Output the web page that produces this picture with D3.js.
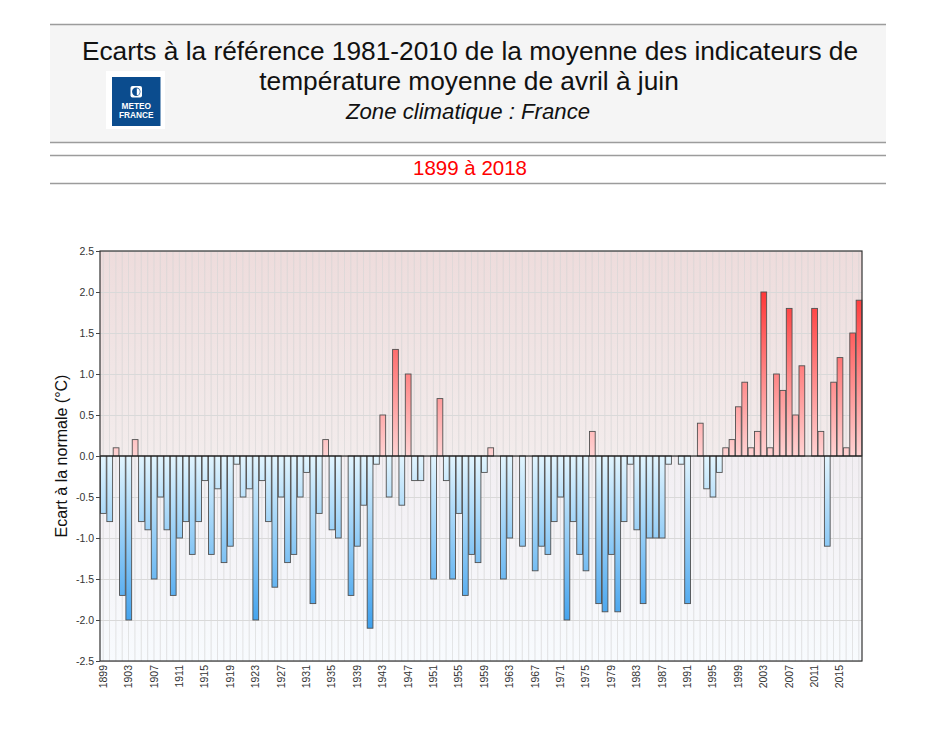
<!DOCTYPE html>
<html><head><meta charset="utf-8">
<script src="https://cdn.jsdelivr.net/npm/d3@7"></script>
<style>
body{margin:0;background:#fff;}
svg{display:block;font-family:"Liberation Sans",Arial,Helvetica,sans-serif;}
</style>
</head><body>
<svg id="chart" width="936" height="750"></svg>
<script>
// ---------- data ----------
const firstYear = 1899;
const lastYear = 2018;
const anomalies = [
  -0.7,-0.8, 0.1,-1.7,-2.0, 0.2,-0.8,-0.9,-1.5,-0.5, // 1899-1908
  -0.9,-1.7,-1.0,-0.8,-1.2,-0.8,-0.3,-1.2,-0.4,-1.3, // 1909-1918
  -1.1,-0.1,-0.5,-0.4,-2.0,-0.3,-0.8,-1.6,-0.5,-1.3, // 1919-1928
  -1.2,-0.5,-0.2,-1.8,-0.7, 0.2,-0.9,-1.0, 0.0,-1.7, // 1929-1938
  -1.1,-0.6,-2.1,-0.1, 0.5,-0.5, 1.3,-0.6, 1.0,-0.3, // 1939-1948
  -0.3, 0.0,-1.5, 0.7,-0.3,-1.5,-0.7,-1.7,-1.2,-1.3, // 1949-1958
  -0.2, 0.1, 0.0,-1.5,-1.0, 0.0,-1.1, 0.0,-1.4,-1.1, // 1959-1968
  -1.2,-0.8,-0.5,-2.0,-0.8,-1.2,-1.4, 0.3,-1.8,-1.9, // 1969-1978
  -1.2,-1.9,-0.8,-0.1,-0.9,-1.8,-1.0,-1.0,-1.0,-0.1, // 1979-1988
   0.0,-0.1,-1.8, 0.0, 0.4,-0.4,-0.5,-0.2, 0.1, 0.2, // 1989-1998
   0.6, 0.9, 0.1, 0.3, 2.0, 0.1, 1.0, 0.8, 1.8, 0.5, // 1999-2008
   1.1, 0.0, 1.8, 0.3,-1.1, 0.9, 1.2, 0.1, 1.5, 1.9  // 2009-2018
];
const years = d3.range(firstYear, lastYear + 1);
const yTicks = [-2.5,-2.0,-1.5,-1.0,-0.5,0.0,0.5,1.0,1.5,2.0,2.5];
const xTickYears = [1899,1903,1907,1911,1915,1919,1923,1927,1931,1935,1939,1943,1947,1951,1955,1959,
                    1963,1967,1971,1975,1979,1983,1987,1991,1995,1999,2003,2007,2011,2015];
const titleLines = ["Ecarts à la référence 1981-2010 de la moyenne des indicateurs de",
                    "température moyenne de avril à juin"];
const zoneText = "Zone climatique : France";
const periodText = "1899 à 2018";
const yAxisTitle = "Ecart à la normale (°C)";

const data = years.map((y, i) => ({year: y, value: anomalies[i]}));

// ---------- layout ----------
const svg = d3.select("#chart");
const plot = {left: 100, right: 862, top: 251, bottom: 661};
const cx = 469;

// header block
svg.append("rect").attr("x", 50).attr("y", 25).attr("width", 836).attr("height", 117).attr("fill", "#f5f5f5");
[24.5, 142.5, 155.5, 183.5].forEach(y => {
  svg.append("line").attr("x1", 50).attr("x2", 886).attr("y1", y).attr("y2", y)
    .attr("stroke", "#9c9c9c").attr("stroke-width", 1.5);
});
svg.append("text").attr("x", cx + 1).attr("y", 60).attr("text-anchor", "middle")
  .attr("font-size", 26.3).attr("fill", "#111").text(titleLines[0]);
svg.append("text").attr("x", cx).attr("y", 90).attr("text-anchor", "middle")
  .attr("font-size", 26.3).attr("fill", "#111").text(titleLines[1]);
svg.append("text").attr("x", cx - 1).attr("y", 119).attr("text-anchor", "middle")
  .attr("font-size", 22.2).attr("font-style", "italic").attr("fill", "#111").text(zoneText);
svg.append("text").attr("x", cx + 1).attr("y", 175).attr("text-anchor", "middle")
  .attr("font-size", 20.5).attr("fill", "#ff0000").text(periodText);

// logo
const logo = svg.append("g");
logo.append("rect").attr("x", 106).attr("y", 71).attr("width", 59).attr("height", 58).attr("fill", "#fff");
logo.append("rect").attr("x", 112).attr("y", 77).attr("width", 48.5).attr("height", 49).attr("fill", "#0b4c8e");
logo.append("rect").attr("x", 130.5).attr("y", 86).attr("width", 11.5).attr("height", 11.5).attr("rx", 2).attr("fill", "#fff");
logo.append("circle").attr("cx", 136.25).attr("cy", 91.75).attr("r", 4.2).attr("fill", "#0b4c8e");
logo.append("path").attr("d", "M136.8,88.2 A3.6,3.6 0 0 1 136.8,95.3 Z").attr("fill", "#fff");
logo.append("text").attr("x", 136.3).attr("y", 109.3).attr("text-anchor", "middle")
  .attr("font-size", 8.3).attr("font-weight", "bold").attr("fill", "#fff").text("METEO");
logo.append("text").attr("x", 136.3).attr("y", 117.5).attr("text-anchor", "middle")
  .attr("font-size", 8.3).attr("font-weight", "bold").attr("fill", "#fff").text("FRANCE");

// ---------- scales ----------
const x = d3.scaleBand().domain(years).range([plot.left, plot.right]).padding(0);
const y = d3.scaleLinear().domain([-2.5, 2.5]).range([plot.bottom, plot.top]);

// gradients
const defs = svg.append("defs");
const bg = defs.append("linearGradient").attr("id", "bgGrad")
  .attr("gradientUnits", "userSpaceOnUse").attr("x1", 0).attr("x2", 0)
  .attr("y1", y(2.5)).attr("y2", y(-2.5));
bg.append("stop").attr("offset", "0%").attr("stop-color", "#eedcdc");
bg.append("stop").attr("offset", "49.9%").attr("stop-color", "#f3ecec");
bg.append("stop").attr("offset", "50.1%").attr("stop-color", "#f2eef2");
bg.append("stop").attr("offset", "100%").attr("stop-color", "#f8fbfe");

const posG = defs.append("linearGradient").attr("id", "posGrad")
  .attr("gradientUnits", "userSpaceOnUse").attr("x1", 0).attr("x2", 0)
  .attr("y1", y(0)).attr("y2", y(2.5));
posG.append("stop").attr("offset", "0%").attr("stop-color", "#ffd3d3");
posG.append("stop").attr("offset", "100%").attr("stop-color", "#ff1010");

const negG = defs.append("linearGradient").attr("id", "negGrad")
  .attr("gradientUnits", "userSpaceOnUse").attr("x1", 0).attr("x2", 0)
  .attr("y1", y(0)).attr("y2", y(-2.5));
negG.append("stop").attr("offset", "0%").attr("stop-color", "#e2f5fe");
negG.append("stop").attr("offset", "100%").attr("stop-color", "#1e90ea");

// plot background
svg.append("rect").attr("x", plot.left).attr("y", plot.top)
  .attr("width", plot.right - plot.left).attr("height", plot.bottom - plot.top)
  .attr("fill", "url(#bgGrad)");

// vertical grid (one per year, at bar centers)
svg.append("g").selectAll("line").data(years).join("line")
  .attr("x1", d => x(d) + x.bandwidth() / 2).attr("x2", d => x(d) + x.bandwidth() / 2)
  .attr("y1", plot.top).attr("y2", plot.bottom)
  .attr("stroke", "#d6d6d6").attr("stroke-width", 0.8).attr("opacity", 0.8);

// horizontal grid
svg.append("g").selectAll("line").data(yTicks).join("line")
  .attr("x1", plot.left).attr("x2", plot.right)
  .attr("y1", d => Math.round(y(d)) + 0.5).attr("y2", d => Math.round(y(d)) + 0.5)
  .attr("stroke", "#d9d9d9").attr("stroke-width", 1);

// bars
svg.append("g").selectAll("rect").data(data.filter(d => d.value !== 0)).join("rect")
  .attr("x", d => x(d.year) + 0.5)
  .attr("width", x.bandwidth() - 0.6)
  .attr("y", d => Math.min(y(d.value), y(0)))
  .attr("height", d => Math.abs(y(d.value) - y(0)))
  .attr("fill", d => d.value > 0 ? "url(#posGrad)" : "url(#negGrad)")
  .attr("stroke", "#505050").attr("stroke-width", 0.9);

// zero line
svg.append("line").attr("x1", plot.left).attr("x2", plot.right)
  .attr("y1", y(0)).attr("y2", y(0)).attr("stroke", "#000").attr("stroke-width", 1.2);

// frame
svg.append("rect").attr("x", plot.left).attr("y", plot.top)
  .attr("width", plot.right - plot.left).attr("height", plot.bottom - plot.top)
  .attr("fill", "none").attr("stroke", "#333").attr("stroke-width", 1.2);

// y axis
const yAxis = d3.axisLeft(y).tickValues(yTicks).tickFormat(d3.format(".1f")).tickSize(4).tickPadding(2);
const ya = svg.append("g").attr("transform", `translate(${plot.left},0)`).call(yAxis);
ya.select(".domain").remove();
ya.selectAll("line").attr("stroke", "#444");
ya.selectAll("text").attr("font-size", 10.5).attr("fill", "#333")
  .attr("font-family", "\"Liberation Sans\",Arial,sans-serif")
  .text(d => d3.format(".1f")(d).replace("−", "-"));

// x axis
const xAxis = d3.axisBottom(x).tickValues(xTickYears).tickSize(0).tickPadding(4);
const xa = svg.append("g").attr("transform", `translate(0,${plot.bottom})`).call(xAxis);
xa.select(".domain").remove();
xa.selectAll("text")
  .attr("font-size", 10.5).attr("fill", "#333")
  .attr("font-family", "\"Liberation Sans\",Arial,sans-serif")
  .attr("text-anchor", "end")
  .attr("transform", "rotate(-90)")
  .attr("x", -4).attr("y", 0).attr("dy", "0.35em");

// y axis title
svg.append("text")
  .attr("transform", `translate(67,${(plot.top + plot.bottom) / 2}) rotate(-90)`)
  .attr("text-anchor", "middle").attr("font-size", 16).attr("fill", "#111")
  .text(yAxisTitle);
</script>
</body></html>
